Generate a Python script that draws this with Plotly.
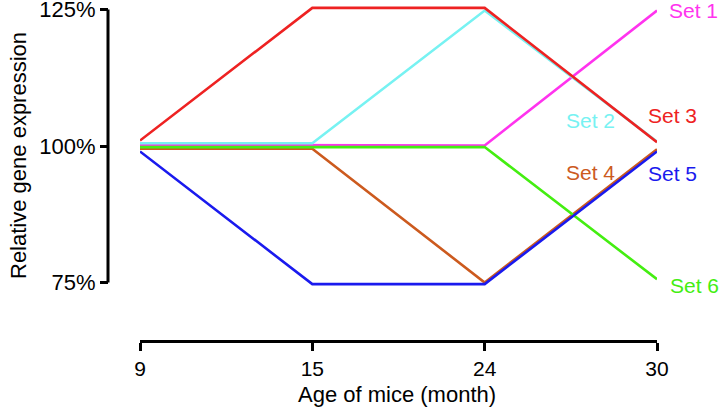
import plotly.graph_objects as go

ages = ["9", "15", "24", "30"]
set_names = ["Set 1", "Set 2", "Set 3", "Set 4", "Set 5", "Set 6"]
set1 = [100.2, 100.2, 100.1, 124.8]
set2 = [100.5, 100.5, 124.8, 100.8]
set3 = [101.0, 125.3, 125.3, 100.7]
set4 = [99.5, 99.5, 75.0, 99.4]
set5 = [99.0, 74.7, 74.7, 99.0]
set6 = [99.8, 99.8, 99.8, 75.6]
y_ticks = [75, 100, 125]
y_ticktext = ["75%", "100%", "125%"]

series = [set1, set2, set3, set4, set5, set6]
colors = ["#ff33ee", "#77f2f2", "#ee2222", "#cc5a1e", "#1a1aee", "#44ee11"]
draw_order = [3, 0, 1, 2, 5, 4]

W, H = 728, 409
FONT = "Liberation Sans, Arial, sans-serif"

fig = go.Figure()
for i in draw_order:
    fig.add_trace(go.Scatter(x=ages, y=series[i], mode="lines", name=set_names[i],
                             line=dict(color=colors[i], width=2.6), showlegend=False))

# label positions (pixels)
label_pos = [(693, 11), (590, 121), (672, 115), (590, 172), (672, 173), (694, 285)]
for i, (px, py) in enumerate(label_pos):
    fig.add_annotation(x=px / W, y=(H - py) / H, xref="paper", yref="paper",
                       text=set_names[i], showarrow=False,
                       font=dict(family=FONT, size=21, color=colors[i]),
                       xanchor="center", yanchor="middle")

yaxis_pos = 108 / W
fig.update_layout(
    width=W, height=H,
    margin=dict(l=0, r=0, t=0, b=0),
    paper_bgcolor="white", plot_bgcolor="white",
    font=dict(family=FONT, size=21, color="black"),
    xaxis=dict(type="category", domain=[140 / W, 657 / W], range=[0, 3],
               anchor="free", position=(H - 341) / H,
               showline=True, linecolor="black", linewidth=3,
               ticks="outside", ticklen=8, tickwidth=3, tickcolor="black",
               showgrid=False, zeroline=False, automargin=False,
               ticklabeloverflow="allow",
               tickfont=dict(size=21)),
    yaxis=dict(domain=[(H - 289.05) / H, (H - 2.95) / H], range=[73.8, 126.2],
               anchor="free", position=yaxis_pos,
               showline=False, tickvals=y_ticks, ticktext=y_ticktext,
               ticks="outside", ticklen=8, tickwidth=3, tickcolor="black",
               showgrid=False, zeroline=False, automargin=False,
               ticklabeloverflow="allow",
               tickfont=dict(size=22)),
)

# y-axis spine spanning the tick range
fig.add_shape(type="line", xref="paper", yref="y", x0=yaxis_pos, x1=yaxis_pos,
              y0=y_ticks[0], y1=y_ticks[-1], line=dict(color="black", width=3))

fig.add_annotation(x=(397) / W, y=(H - 394) / H, xref="paper", yref="paper",
                   text="Age of mice (month)", showarrow=False,
                   font=dict(family=FONT, size=22, color="black"),
                   xanchor="center", yanchor="middle")
fig.add_annotation(x=18 / W, y=(H - 156) / H, xref="paper", yref="paper",
                   text="Relative gene expression", showarrow=False, textangle=-90,
                   font=dict(family=FONT, size=22, color="black"),
                   xanchor="center", yanchor="middle")

fig.write_html("out.html", config={"displayModeBar": False},
               post_script="document.body.style.margin='0';document.body.style.overflow='hidden';")
